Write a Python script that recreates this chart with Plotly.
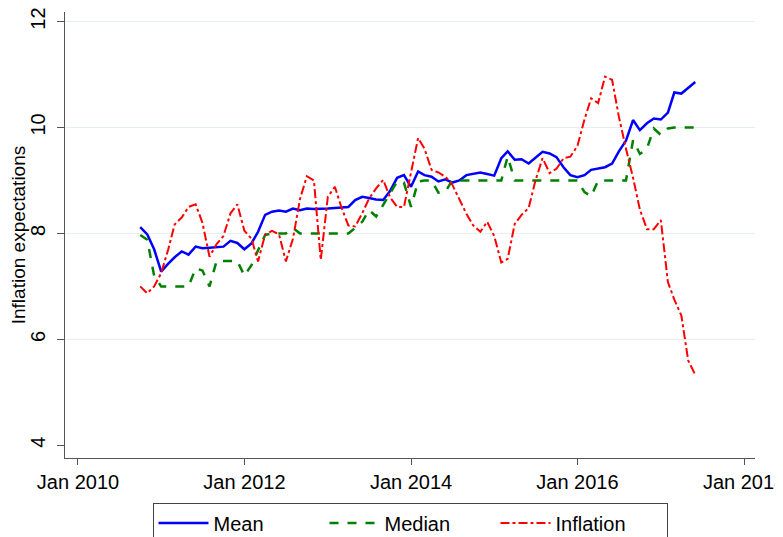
import pandas as pd
import plotly.graph_objects as go

# monthly survey readings, Oct 2010 - Jun 2017
months = pd.date_range("2010-10-01", "2017-06-01", freq="MS")

mean_exp = [8.12, 7.98, 7.70, 7.28, 7.43, 7.55, 7.66, 7.60, 7.75, 7.72,
            7.73, 7.74, 7.75, 7.86, 7.82, 7.70, 7.81, 8.03, 8.35, 8.41,
            8.43, 8.41, 8.47, 8.44, 8.47, 8.46, 8.46, 8.47, 8.48, 8.49,
            8.50, 8.63, 8.69, 8.67, 8.64, 8.63, 8.80, 9.05, 9.10, 8.88,
            9.17, 9.10, 9.07, 8.98, 9.02, 8.96, 9.00, 9.10, 9.13, 9.15,
            9.12, 9.09, 9.42, 9.55, 9.39, 9.40, 9.32, 9.42, 9.54, 9.51,
            9.44, 9.25, 9.10, 9.06, 9.10, 9.20, 9.23, 9.25, 9.32, 9.55,
            9.75, 10.14, 9.95, 10.08, 10.17, 10.15, 10.28, 10.66, 10.64, 10.75,
            10.86]

median_exp = [7.97, 7.88, 7.20, 7.00, 7.00, 7.00, 7.00, 7.00, 7.34, 7.30,
              7.00, 7.48, 7.48, 7.48, 7.48, 7.20, 7.40, 7.68, 7.97, 8.00,
              8.00, 8.00, 8.10, 8.00, 8.00, 8.00, 8.00, 8.00, 8.00, 8.00,
              8.00, 8.10, 8.22, 8.44, 8.32, 8.54, 8.76, 8.98, 8.96, 8.50,
              8.98, 9.00, 9.00, 8.77, 8.79, 9.00, 9.00, 9.00, 9.00, 9.00,
              9.00, 9.00, 9.00, 9.45, 9.00, 9.00, 9.00, 9.00, 9.00, 9.00,
              9.00, 9.00, 9.00, 9.00, 8.78, 8.70, 9.00, 9.00, 9.00, 9.00,
              9.00, 9.76, 9.50, 9.60, 9.98, 9.86, 9.98, 10.00, 10.00, 10.00,
              10.00]

inflation = [7.00, 6.87, 7.00, 7.25, 7.70, 8.17, 8.30, 8.50, 8.55, 8.20,
             7.56, 7.80, 7.95, 8.38, 8.55, 8.05, 7.90, 7.47, 7.98, 8.05,
             7.98, 7.47, 7.90, 8.65, 9.08, 9.00, 7.50, 8.69, 8.88, 8.50,
             8.15, 8.13, 8.38, 8.66, 8.85, 9.01, 8.68, 8.50, 8.50, 9.15,
             9.80, 9.60, 9.20, 9.15, 9.07, 8.92, 8.65, 8.37, 8.15, 8.03,
             8.22, 7.95, 7.45, 7.52, 8.18, 8.35, 8.48, 9.00, 9.42, 9.14,
             9.22, 9.42, 9.45, 9.65, 10.15, 10.55, 10.46, 10.96, 10.90, 10.20,
             9.60, 9.05, 8.45, 8.08, 8.08, 8.25, 7.08, 6.75, 6.45, 5.60,
             5.33]

y_ticks = [4, 6, 8, 10, 12]
x_ticks = ["2010-01-01", "2012-01-01", "2014-01-01", "2016-01-01", "2018-01-01"]
x_labels = ["Jan 2010", "Jan 2012", "Jan 2014", "Jan 2016", "Jan 2018"]

fig = go.Figure()
fig.add_trace(go.Scatter(x=months, y=mean_exp, name="Mean", mode="lines",
                         line=dict(color="#0000ff", width=2.5)))
fig.add_trace(go.Scatter(x=months, y=median_exp, name="Median", mode="lines",
                         line=dict(color="#008000", width=2.5, dash="dash")))
fig.add_trace(go.Scatter(x=months, y=inflation, name="Inflation", mode="lines",
                         line=dict(color="#ff0000", width=2, dash="dashdot")))

# light gridlines like stata, skipping the bottom tick
for t in y_ticks[1:]:
    fig.add_shape(type="line", xref="paper", x0=0, x1=1, yref="y", y0=t, y1=t,
                  line=dict(color="#e6eef0", width=1), layer="below")

# page body adds 8px, so margins are offset by that
fig.update_layout(
    width=783, height=537,
    paper_bgcolor="white", plot_bgcolor="white",
    margin=dict(l=57, r=36, t=4, b=87, autoexpand=False),
    font=dict(family="Arial, Liberation Sans", size=20, color="black"),
    showlegend=True,
    legend=dict(orientation="h", x=0.5, xanchor="center", y=-0.1, yanchor="top",
                bordercolor="#444", borderwidth=1, font=dict(size=20),
                itemwidth=50, entrywidth=106, tracegroupgap=0),
    xaxis=dict(range=["2009-11-05", "2018-02-18"], tickvals=x_ticks, ticktext=x_labels,
               showgrid=False, zeroline=False, showline=True, linecolor="#555",
               linewidth=1, ticks="outside", ticklen=6, tickcolor="#555",
               automargin=False, ticklabeloverflow="allow"),
    yaxis=dict(range=[3.76, 12.18], tickvals=y_ticks, tickangle=-90,
               showgrid=False, zeroline=False, showline=True, linecolor="#555",
               linewidth=1, ticks="outside", ticklen=7, tickcolor="#555",
               ticklabelstandoff=4, automargin=False, ticklabeloverflow="allow",
               title=dict(text="Inflation expectations", font=dict(size=19), standoff=8)),
)

fig.write_html("out.html")
